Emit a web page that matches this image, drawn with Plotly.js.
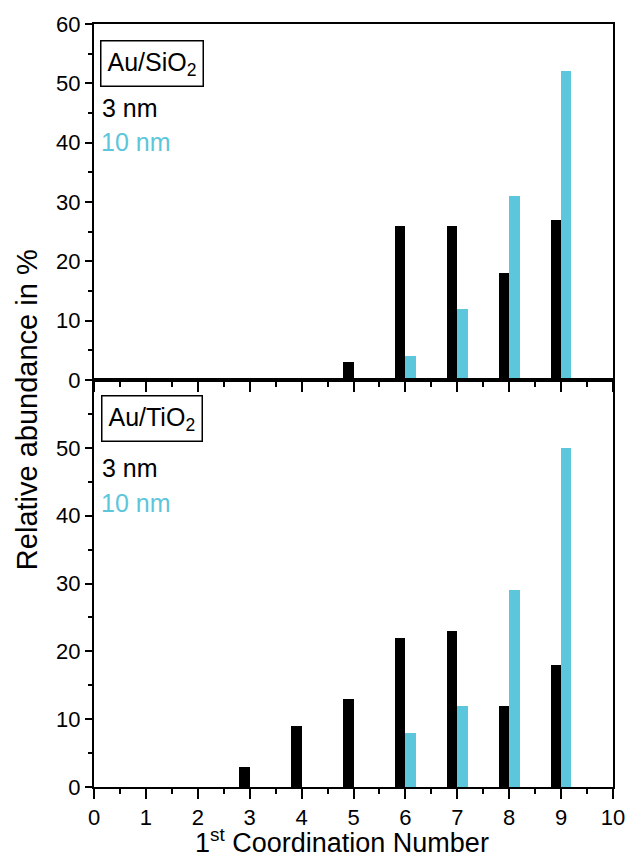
<!DOCTYPE html>
<html>
<head>
<meta charset="utf-8">
<script src="https://cdn.plot.ly/plotly-3.0.1.min.js"></script>
<style>html,body{margin:0;padding:0;background:#fff;}#chart{width:629px;height:862px;}</style>
</head>
<body>
<div id="chart"></div>
<script>
// Data
const xSiO2_3nm = [5, 6, 7, 8, 9];
const ySiO2_3nm = [3, 26, 26, 18, 27];
const xSiO2_10nm = [6, 7, 8, 9];
const ySiO2_10nm = [4, 12, 31, 52];
const xTiO2_3nm = [3, 4, 5, 6, 7, 8, 9];
const yTiO2_3nm = [3, 9, 13, 22, 23, 12, 18];
const xTiO2_10nm = [6, 7, 8, 9];
const yTiO2_10nm = [8, 12, 29, 50];
const xTickVals = [0, 1, 2, 3, 4, 5, 6, 7, 8, 9, 10];
const yTopTicks = [0, 10, 20, 30, 40, 50, 60];
const yBottomTicks = [0, 10, 20, 30, 40, 50];

const BLACK = '#000000';
const CYAN = '#5cc6dc';
const FONT = 'Liberation Sans, Arial, sans-serif';

function bar(x, y, color, offset, xa, ya) {
  return {type: 'bar', x: x, y: y, xaxis: xa, yaxis: ya, offset: offset, width: 0.2,
          marker: {color: color, line: {width: 0}}, hoverinfo: 'skip', showlegend: false};
}

const data = [
  bar(xSiO2_3nm, ySiO2_3nm, BLACK, -0.2, 'x', 'y'),
  bar(xSiO2_10nm, ySiO2_10nm, CYAN, 0, 'x', 'y'),
  bar(xTiO2_3nm, yTiO2_3nm, BLACK, -0.2, 'x2', 'y2'),
  bar(xTiO2_10nm, yTiO2_10nm, CYAN, 0, 'x2', 'y2')
];

const split = 0.5334;
const xCommon = {
  range: [0, 10], tickmode: 'array', tickvals: xTickVals,
  ticks: 'outside', ticklen: 10, tickwidth: 2, tickcolor: '#000',
  minor: {tickmode: 'linear', tick0: 0, dtick: 0.5, ticks: 'outside', ticklen: 5, tickwidth: 2, tickcolor: '#000', showgrid: false},
  showline: true, linewidth: 2, linecolor: '#000', mirror: true,
  showgrid: false, zeroline: false,
  tickfont: {family: FONT, size: 22, color: '#000'}
};
const yCommon = {
  range: [0, 60], tickmode: 'array',
  ticks: 'outside', ticklen: 7, tickwidth: 2, tickcolor: '#000',
  minor: {tickmode: 'linear', tick0: 0, dtick: 5, ticks: 'outside', ticklen: 4, tickwidth: 2, tickcolor: '#000', showgrid: false},
  showline: true, linewidth: 2, linecolor: '#000', mirror: true,
  showgrid: false, zeroline: false,
  tickfont: {family: FONT, size: 22, color: '#000'}
};

const layout = {
  width: 629, height: 862,
  margin: {l: 94, r: 16, t: 24, b: 75},
  paper_bgcolor: '#fff', plot_bgcolor: '#fff',
  font: {family: FONT, color: '#000'},
  bargap: 0,
  xaxis: Object.assign({}, xCommon, {domain: [0, 1], anchor: 'y', showticklabels: false}),
  xaxis2: Object.assign({}, xCommon, {domain: [0, 1], anchor: 'y2', matches: 'x', showticklabels: true}),
  yaxis: Object.assign({}, yCommon, {domain: [split, 1], anchor: 'x', tickvals: yTopTicks}),
  yaxis2: Object.assign({}, yCommon, {domain: [0, split], anchor: 'x2', tickvals: yBottomTicks}),
  annotations: [
    {xref: 'paper', yref: 'paper', x: 0.0116, y: 0.979, xanchor: 'left', yanchor: 'top',
     text: 'Au/SiO<sub>2</sub>', showarrow: false, bordercolor: '#000', borderwidth: 1.5, borderpad: 6,
     font: {family: FONT, size: 25, color: '#000'}},
    {xref: 'paper', yref: 'paper', x: 0.012, y: 0.890, xanchor: 'left', yanchor: 'middle',
     text: '3 nm', showarrow: false, font: {family: FONT, size: 25, color: BLACK}},
    {xref: 'paper', yref: 'paper', x: 0.010, y: 0.845, xanchor: 'left', yanchor: 'middle',
     text: '10 nm', showarrow: false, font: {family: FONT, size: 25, color: CYAN}},
    {xref: 'paper', yref: 'paper', x: 0.0135, y: 0.5138, xanchor: 'left', yanchor: 'top',
     text: 'Au/TiO<sub>2</sub>', showarrow: false, bordercolor: '#000', borderwidth: 1.5, borderpad: 6,
     font: {family: FONT, size: 25, color: '#000'}},
    {xref: 'paper', yref: 'paper', x: 0.012, y: 0.418, xanchor: 'left', yanchor: 'middle',
     text: '3 nm', showarrow: false, font: {family: FONT, size: 25, color: BLACK}},
    {xref: 'paper', yref: 'paper', x: 0.010, y: 0.372, xanchor: 'left', yanchor: 'middle',
     text: '10 nm', showarrow: false, font: {family: FONT, size: 25, color: CYAN}},
    {xref: 'paper', yref: 'paper', x: -0.129, y: 0.494, xanchor: 'center', yanchor: 'middle',
     textangle: -90, text: 'Relative abundance in %', showarrow: false,
     font: {family: FONT, size: 29, color: '#000'}},
    {xref: 'paper', yref: 'paper', x: 0.478, y: -0.071, xanchor: 'center', yanchor: 'middle',
     text: '1<sup>st</sup> Coordination Number', showarrow: false,
     font: {family: FONT, size: 27, color: '#000'}}
  ]
};

Plotly.newPlot('chart', data, layout, {displayModeBar: false, staticPlot: true});
</script>
</body>
</html>
